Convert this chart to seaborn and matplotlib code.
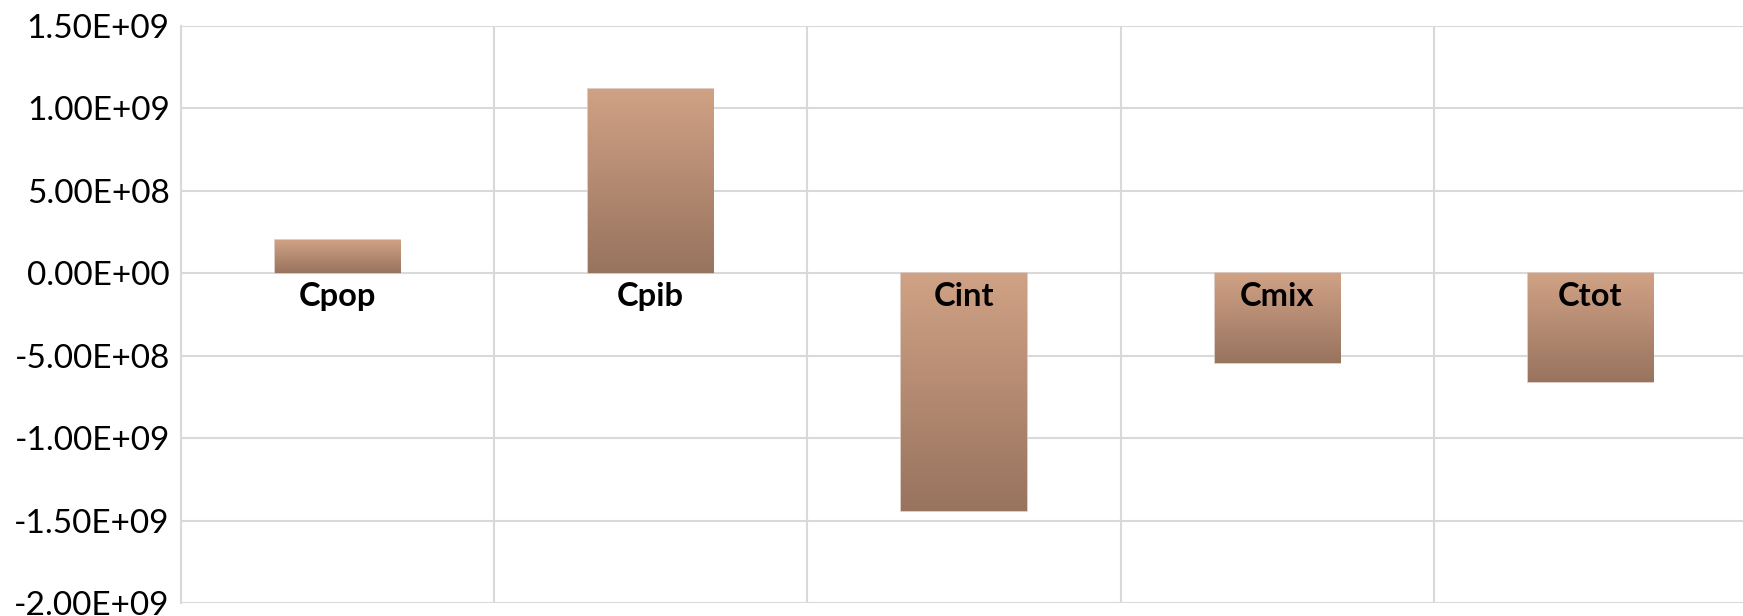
import numpy as np
import pandas as pd
import seaborn as sns
import matplotlib.pyplot as plt
from matplotlib.ticker import FuncFormatter, MultipleLocator
from matplotlib.colors import LinearSegmentedColormap

# data
categories = ["Cpop", "Cpib", "Cint", "Cmix", "Ctot"]
values = [2.0e8, 1.12e9, -1.44e9, -5.45e8, -6.6e8]
y_ticks = [-2.0e9, -1.5e9, -1.0e9, -5.0e8, 0.0, 5.0e8, 1.0e9, 1.5e9]

sns.set_theme(style="white")
plt.rcParams["font.family"] = ["Lato", "DejaVu Sans"]

df = pd.DataFrame({"cat": categories, "val": values})

fig = plt.figure(figsize=(17.43, 6.16), dpi=100)
# plot area runs slightly past the right edge, as in the reference
ax = fig.add_axes([0.1038, 0.021, 0.8985, 0.937])

sns.barplot(data=df, x="cat", y="val", width=0.4, color="#B88A70",
            edgecolor="#D8C4BA", linewidth=1.2, ax=ax, zorder=3)

# vertical gradient (light top -> dark bottom) clipped to each bar
grad_cmap = LinearSegmentedColormap.from_list("bar", ["#D0A285", "#98735E"])
grad = np.linspace(0, 1, 256).reshape(-1, 1)
for p in ax.patches:
    x0, y0 = p.get_x(), p.get_y()
    w, h = p.get_width(), p.get_height()
    lo, hi = min(y0, y0 + h), max(y0, y0 + h)
    im = ax.imshow(grad, cmap=grad_cmap, aspect="auto", origin="upper",
                   extent=[x0, x0 + w, lo, hi], zorder=3.5)
    im.set_clip_path(p)

ax.set_xlim(-0.5, len(categories) - 0.5)
ax.set_ylim(y_ticks[0], y_ticks[-1])
ax.set_yticks(y_ticks)
ax.yaxis.set_major_formatter(FuncFormatter(lambda v, pos: f"{v:.2E}"))
ax.tick_params(axis="y", labelsize=24, length=0, pad=8, colors="black")

# category labels sit just under the zero line
ax.set_xticks([])
for i, c in enumerate(categories):
    ax.annotate(c, xy=(i, 0), xytext=(0, -6), textcoords="offset points",
                ha="center", va="top", fontsize=23.5, fontweight="bold",
                color="black", zorder=5)

# grid: horizontal at ticks, vertical at category boundaries
ax.xaxis.set_minor_locator(MultipleLocator(1, offset=0.5))
ax.grid(True, axis="y", which="major", color="#D9D9D9", linewidth=1.5, zorder=0)
ax.grid(True, axis="x", which="minor", color="#D9D9D9", linewidth=1.5, zorder=0)
ax.tick_params(axis="x", which="minor", length=0)
ax.set_axisbelow(True)

for s in ["top", "right", "bottom"]:
    ax.spines[s].set_visible(False)
ax.spines["left"].set_color("#D9D9D9")
ax.spines["left"].set_linewidth(1.5)

ax.set_xlabel("")
ax.set_ylabel("")

fig.savefig("out.png", dpi=100, facecolor="white")
